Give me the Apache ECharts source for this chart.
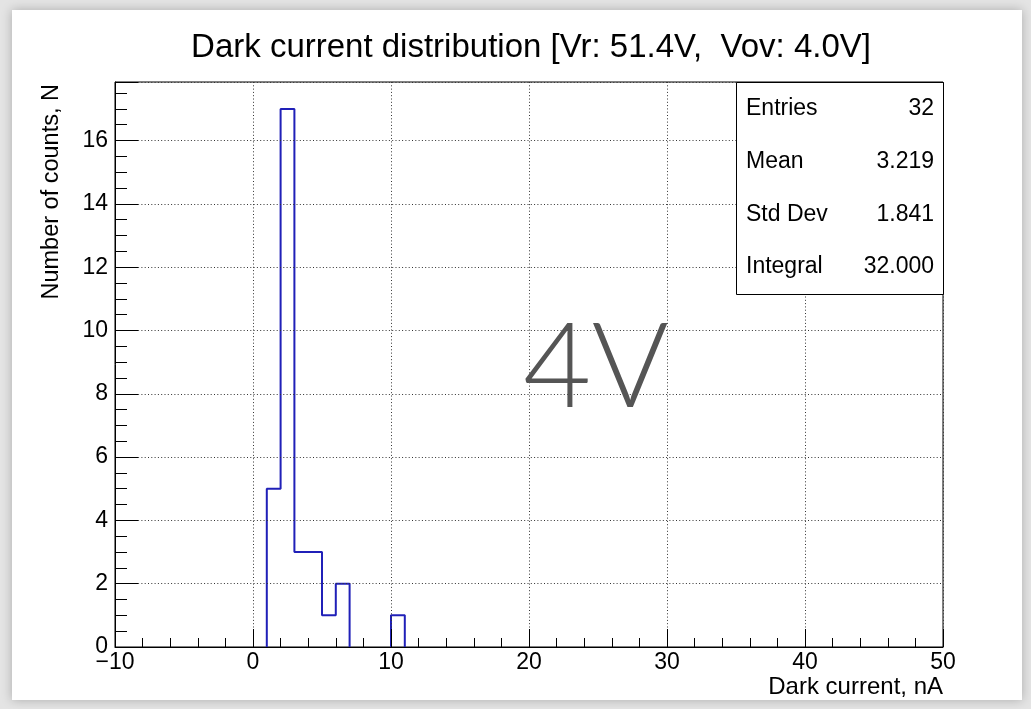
<!DOCTYPE html>
<html>
<head>
<meta charset="utf-8">
<script src="https://cdn.jsdelivr.net/npm/echarts@6/dist/echarts.min.js"></script>
<style>
  html, body { margin: 0; padding: 0; background: #e4e4e4; }
  #chart { width: 1031px; height: 709px; }
</style>
</head>
<body>
<div id="chart"></div>
<script>
// ---- data ----
const titleText = 'Dark current distribution [Vr: 51.4V,  Vov: 4.0V]';
const xAxisTitle = 'Dark current, nA';
const yAxisTitle = 'Number of counts, N';
const binEdges = [1, 2, 3, 4, 5, 6, 7, 8, 9, 10, 11];
const binCounts = [5, 17, 3, 3, 1, 2, 0, 0, 0, 1];
const statsLabels = ['Entries', 'Mean', 'Std Dev', 'Integral'];
const statsValues = ['32', '3.219', '1.841', '32.000'];
const overlayText = '4V';
const xRange = [-10, 50];
const yMax = 17.85;

// build histogram outline (ROOT "HIST" style) from the bins; empty runs leave a gap
const outline = [];
let open = false;
for (let i = 0; i < binCounts.length; i++) {
  const c = binCounts[i];
  if (c > 0) {
    if (!open) { outline.push([binEdges[i], 0]); open = true; }
    outline.push([binEdges[i], c]);
    outline.push([binEdges[i + 1], c]);
  } else if (open) {
    outline.push([binEdges[i], 0]);
    outline.push([binEdges[i], '-']);
    open = false;
  }
}
if (open) outline.push([binEdges[binEdges.length - 1], 0]);

const FONT = 'Liberation Sans, Arial, Helvetica, sans-serif';
const G = { left: 115, top: 82, right: 88, bottom: 62 };

const chart = echarts.init(document.getElementById('chart'), null, { renderer: 'canvas' });

const statsBox = { x: 736, y: 82, w: 207, h: 212 };
const statsEls = [{
  type: 'rect',
  shape: { x: statsBox.x + 0.5, y: statsBox.y + 0.5, width: statsBox.w, height: statsBox.h },
  style: { fill: '#fff', stroke: '#000', lineWidth: 1 },
  z: 10
}];
statsLabels.forEach((lab, i) => {
  const cy = 109 + i * 52.7;
  statsEls.push({
    type: 'text', x: statsBox.x + 10, y: cy, z: 11,
    style: { text: lab, font: '23px ' + FONT, fill: '#000', textAlign: 'left', textVerticalAlign: 'middle' }
  });
  statsEls.push({
    type: 'text', x: statsBox.x + statsBox.w - 9, y: cy, z: 11,
    style: { text: statsValues[i], font: '23px ' + FONT, fill: '#000', textAlign: 'right', textVerticalAlign: 'middle' }
  });
});

const option = {
  backgroundColor: 'transparent',
  animation: false,
  title: {
    text: titleText,
    left: 526, top: 26, textAlign: 'center',
    textStyle: { fontFamily: FONT, fontSize: 33, fontWeight: 'normal', color: '#000' }
  },
  grid: {
    left: G.left, top: G.top, right: G.right, bottom: G.bottom,
    containLabel: false, outerBoundsMode: 'none',
    show: true, borderColor: '#000', borderWidth: 1, backgroundColor: 'transparent'
  },
  xAxis: {
    type: 'value', min: xRange[0], max: xRange[1], interval: 10, z: 3,
    axisLine: { show: true, onZero: false, lineStyle: { color: '#000', width: 1 } },
    axisTick: { show: true, inside: true, length: 18, lineStyle: { color: '#000', width: 1 } },
    minorTick: { show: true, splitNumber: 5, length: 9, lineStyle: { color: '#000', width: 1 } },
    axisLabel: {
      fontFamily: FONT, fontSize: 23, color: '#000', margin: 4,
      formatter: v => String(v).replace('-', '\u2212')
    },
    splitLine: { show: true, lineStyle: { color: '#333', width: 1, type: [1, 2.3] } }
  },
  yAxis: {
    type: 'value', min: 0, max: yMax, interval: 2, z: 3,
    axisLine: { show: true, onZero: false, lineStyle: { color: '#000', width: 1 } },
    axisTick: { show: true, inside: true, length: 23, lineStyle: { color: '#000', width: 1 } },
    minorTick: { show: true, splitNumber: 4, length: 12, lineStyle: { color: '#000', width: 1 } },
    axisLabel: { fontFamily: FONT, fontSize: 23, color: '#000', margin: 7, showMaxLabel: false },
    splitLine: { show: true, lineStyle: { color: '#333', width: 1, type: [1, 2.3] } }
  },
  series: [{
    type: 'line',
    data: outline,
    symbol: 'none',
    clip: true,
    connectNulls: false,
    lineStyle: { color: '#2020b8', width: 2 },
    z: 2
  }],
  graphic: [
    {
      type: 'rect', z: -10, silent: true,
      shape: { x: 12, y: 10, width: 1010, height: 690 },
      style: { fill: '#fff', shadowBlur: 10, shadowColor: 'rgba(0,0,0,0.25)' }
    },
    {
      type: 'text', x: 943, y: 687, z: 5,
      style: { text: xAxisTitle, font: '24px ' + FONT, fill: '#000', textAlign: 'right', textVerticalAlign: 'middle' }
    },
    {
      type: 'text', x: 52, y: 84, rotation: Math.PI / 2, z: 5,
      style: { text: yAxisTitle, font: '23.5px ' + FONT, fill: '#000', textAlign: 'right', textVerticalAlign: 'middle' }
    },
    ...statsEls,
    {
      type: 'text', x: 596, y: 369, z: 12,
      style: { text: overlayText, font: '300 118px Lato, "Open Sans", sans-serif', fill: '#555', textAlign: 'center', textVerticalAlign: 'middle' }
    }
  ]
};
chart.setOption(option);
</script>
</body>
</html>
